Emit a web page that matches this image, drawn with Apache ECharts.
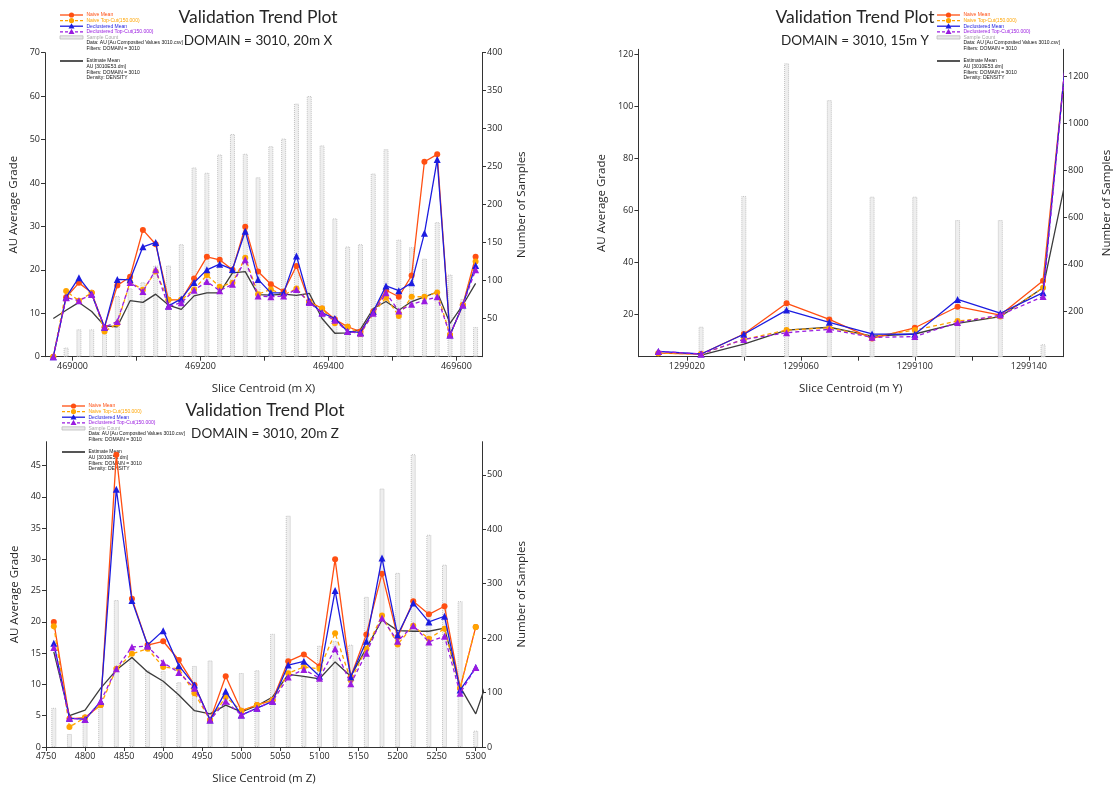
<!DOCTYPE html>
<html>
<head>
<meta charset="utf-8">
<title>Validation Trend Plots</title>
<script src="https://cdn.jsdelivr.net/npm/echarts@6/dist/echarts.min.js"></script>
<style>
  html, body { margin: 0; padding: 0; background: #ffffff; }
  #chart { width: 1114px; height: 786px; }
</style>
</head>
<body>
<div id="chart"></div>
<script>
// ---------- Slice trend along X (20 m slices) ----------
const xCentroids = [468970, 468990, 469010, 469030, 469050, 469070, 469090, 469110, 469130, 469150,
  469170, 469190, 469210, 469230, 469250, 469270, 469290, 469310, 469330, 469350,
  469370, 469390, 469410, 469430, 469450, 469470, 469490, 469510, 469530, 469550,
  469570, 469590, 469610, 469630];
const xNaiveMean = [0, 13.7, 17.0, 14.7, 6.8, 16.4, 18.4, 29.2, 25.9, 13.1, 13.1, 18.0, 23.0, 22.3, 20.0, 29.9, 19.6,
  16.7, 15.0, 20.9, 12.7, 11.1, 8.6, 6.9, 5.8, 10.4, 15.3, 13.8, 18.7, 44.9, 46.6, 5.0, 11.9, 23.0];
const xNaiveTopCut = [0, 15.1, 12.9, 14.7, 5.8, 7.6, 17.2, 15.4, 19.6, 13.1, 13.1, 15.5, 18.8, 16.1, 17.0, 22.8, 14.4,
  15.5, 14.2, 15.7, 12.5, 11.1, 7.7, 6.9, 5.2, 10.0, 13.6, 9.4, 13.8, 13.8, 14.8, 5.0, 11.9, 21.9];
const xDeclMean = [0, 13.7, 18.2, 14.4, 6.8, 17.8, 17.7, 25.3, 26.3, 11.7, 13.3, 17.1, 20.0, 21.3, 20.1, 28.9, 17.8,
  14.7, 14.7, 23.2, 12.7, 10.1, 8.8, 5.8, 5.6, 10.4, 16.3, 15.2, 17.0, 28.4, 45.4, 5.0, 11.9, 21.0];
const xDeclTopCut = [0, 13.6, 12.9, 14.4, 6.8, 8.1, 17.1, 15.0, 20.0, 11.6, 12.4, 15.3, 17.3, 15.2, 16.7, 22.3, 14.0,
  13.8, 14.0, 15.5, 12.5, 10.0, 8.4, 5.8, 5.4, 10.0, 14.7, 10.5, 12.1, 12.9, 13.8, 5.0, 11.9, 20.0];
const xEstimate = [8.8, 10.7, 12.5, 10.4, 7.1, 6.9, 12.9, 12.5, 14.4, 11.9, 10.9, 14.0, 14.7, 14.7, 19.3, 19.6, 14.3,
  14.2, 14.4, 14.1, 14.6, 8.8, 5.4, 5.5, 6.3, 11.1, 12.7, 10.7, 12.7, 13.8, 14.9, 7.7, 11.9, 16.9];
const xCounts = [null, 12, 36, 36, 38, 80, 90, 98, 120, 120, 148, 249, 242, 266, 293, 267, 236,
  277, 287, 333, 343, 278, 182, 145, 148, 241, 273, 154, 144, 129, 177, 108, 76, 39];
const xTickValues = [469000, 469100, 469200, 469300, 469400, 469500, 469600];
const xLabelValues = [469000, 469200, 469400, 469600];

// ---------- Slice trend along Y (15 m slices) ----------
const yCentroids = [1299010, 1299025, 1299040, 1299055, 1299070, 1299085, 1299100, 1299115, 1299130, 1299145, 1299160];
const yNaiveMean = [4.9, 4.6, 12.3, 24.1, 17.9, 10.6, 14.7, 22.8, 19.6, 32.8, 192.8];
const yNaiveTopCut = [4.9, 4.6, 10.2, 13.8, 14.7, 11.3, 13.8, 17.3, 19.0, 30.1, 194.8];
const yDeclMean = [5.6, 4.6, 12.2, 21.5, 16.8, 12.3, 12.2, 25.6, 20.3, 28.2, 198.0];
const yDeclTopCut = [5.6, 4.6, 10.2, 12.8, 14.1, 11.0, 11.3, 16.7, 19.6, 26.7, 198.7];
const yEstimate = [null, 4.2, 8.4, 13.8, 14.9, 11.5, 12.3, 16.4, 19.0, 30.1, 108.5];
const yCounts = [null, 133, 691, 1257, 1100, 688, 688, 588, 588, 58, null];
const yTickValues = [1299020, 1299040, 1299060, 1299080, 1299100, 1299120, 1299140];
const yLabelValues = [1299020, 1299060, 1299100, 1299140];

// ---------- Slice trend along Z (20 m slices) ----------
const zCentroids = [4760, 4780, 4800, 4820, 4840, 4860, 4880, 4900, 4920, 4940, 4960, 4980, 5000, 5020,
  5040, 5060, 5080, 5100, 5120, 5140, 5160, 5180, 5200, 5220, 5240, 5260, 5280, 5300, 5320];
const zNaiveMean = [20.0, 4.5, 4.7, 6.7, 46.7, 23.7, 16.3, 16.9, 13.9, 9.9, 4.3, 11.3, 5.8, 6.7,
  7.5, 13.7, 14.8, 12.9, 30.0, 11.2, 18.0, 27.7, 17.6, 23.3, 21.2, 22.5, 9.4, 19.2, null];
const zNaiveTopCut = [19.3, 3.2, 4.7, 6.7, 12.5, 14.9, 15.7, 12.8, 12.5, 8.6, 4.3, 8.0, 5.8, 6.7,
  7.5, 11.8, 12.8, 12.5, 18.2, 10.7, 15.7, 21.0, 16.4, 19.4, 17.3, 18.9, 9.4, 19.2, null];
const zDeclMean = [16.6, 4.6, 4.4, 7.3, 41.2, 23.4, 16.3, 18.6, 13.0, 9.9, 4.3, 8.9, 5.1, 6.2,
  7.3, 13.1, 13.7, 11.3, 25.0, 11.2, 16.9, 30.2, 17.9, 23.0, 20.0, 20.9, 9.1, 12.7, null];
const zDeclTopCut = [15.9, 4.6, 4.4, 7.3, 12.5, 16.0, 16.1, 13.5, 11.9, 9.4, 4.3, 7.3, 5.1, 6.2,
  7.3, 11.2, 12.4, 11.0, 15.7, 10.1, 15.0, 20.6, 16.9, 19.4, 16.8, 17.7, 8.6, 12.7, null];
const zEstimate = [15.2, 5.0, 5.9, 9.4, 12.3, 14.3, 12.0, 10.5, 8.3, 5.8, 5.3, 6.7, 5.6, 6.6,
  8.0, 11.6, 11.3, 10.9, 13.6, 11.3, 15.8, 20.3, 18.6, 18.5, 18.5, 19.0, 9.6, 5.3, 12.5];
const zCounts = [72, 24, 55, 75, 270, 165, 141, 140, 119, 149, 159, 100, 136, 141,
  208, 425, 130, 186, 195, 188, 276, 475, 320, 538, 390, 335, 268, 30, null];
const zTickValues = [4750, 4800, 4850, 4900, 4950, 5000, 5050, 5100, 5150, 5200, 5250, 5300];

// ---------- Shared text ----------
const plotTitle = 'Validation Trend Plot';
const subtitles = ['DOMAIN = 3010, 20m X', 'DOMAIN = 3010, 15m Y', 'DOMAIN = 3010, 20m Z'];
const axisNames = ['Slice Centroid (m X)', 'Slice Centroid (m Y)', 'Slice Centroid (m Z)'];
const gradeName = 'AU Average Grade';
const countName = 'Number of Samples';
const legendTexts = ['Naive Mean', 'Naive Top-Cut(150.000)', 'Declustered Mean', 'Declustered Top-Cut(150.000)',
  'Sample Count', 'Data: AU [Au Composited Values 3010.csv]', 'Filters: DOMAIN = 3010',
  'Estimate Mean', 'AU [3010E53.dm]', 'Filters: DOMAIN = 3010', 'Density: DENSITY'];
const gradeTicks = [20, 40, 60, 80, 100, 120];
const countTicksY = [200, 400, 600, 800, 1000, 1200];
const gradeTicksZ = [0, 5, 10, 15, 20, 25, 30, 35, 40, 45];
const countTicksZ = [0, 100, 200, 300, 400, 500];

// ---------- Styling ----------
const C = {
  naive: '#ff4f12',
  naiveTop: '#ffa400',
  decl: '#1c1ce0',
  declTop: '#9a1be0',
  est: '#3c3c3c',
  barFill: '#eeeeee',
  barEdge: '#c0c0c0',
  axis: '#333333',
  text: '#262626'
};
const FONT = 'Open Sans';

function pairs(xs, vs) {
  const out = [];
  for (let i = 0; i < xs.length; i++) {
    if (vs[i] !== null && vs[i] !== undefined) out.push([xs[i], vs[i]]);
  }
  return out;
}

function xAxisCfg(gridIndex, min, max, ticks, labels, name) {
  return {
    type: 'value', gridIndex, min, max,
    name, nameLocation: 'middle', nameGap: 26,
    nameTextStyle: { fontFamily: FONT, fontSize: 11.5, color: C.text },
    axisLine: { show: true, onZero: false, lineStyle: { color: C.axis, width: 1 } },
    axisTick: { show: true, customValues: ticks, length: 4, lineStyle: { color: C.axis } },
    axisLabel: { customValues: labels, fontFamily: FONT, fontSize: 9, color: C.text, margin: 5,
      formatter: v => String(v) },
    splitLine: { show: false }
  };
}

function yAxisCfg(gridIndex, position, min, max, labels, name, nameGap) {
  return {
    type: 'value', gridIndex, position, min, max,
    name, nameLocation: 'middle', nameGap, nameRotate: 90,
    nameTextStyle: { fontFamily: FONT, fontSize: 11.5, color: C.text },
    axisLine: { show: true, onZero: false, lineStyle: { color: C.axis, width: 1 } },
    axisTick: { show: true, customValues: labels, length: 4, lineStyle: { color: C.axis } },
    axisLabel: { customValues: labels, fontFamily: FONT, fontSize: 9, color: C.text, margin: 5,
      formatter: v => String(v) },
    splitLine: { show: false }
  };
}

function panelSeries(axisIdx, xs, counts, est, naive, naiveTop, decl, declTop, barW) {
  const xi = axisIdx, yl = axisIdx * 2, yr = axisIdx * 2 + 1;
  const line = (data, color, symbol, size, dashed, z) => ({
    type: 'line', xAxisIndex: xi, yAxisIndex: yl, data, z,
    symbol, symbolSize: size, showSymbol: symbol !== 'none', clip: true,
    lineStyle: { color, width: 1.3, type: dashed ? [4, 3] : 'solid' },
    itemStyle: { color },
    emphasis: { disabled: true }
  });
  return [
    {
      type: 'bar', xAxisIndex: xi, yAxisIndex: yr, data: pairs(xs, counts),
      barWidth: barW, z: 1,
      itemStyle: { color: C.barFill, borderColor: C.barEdge, borderWidth: 1, borderType: 'dotted' },
      emphasis: { disabled: true }
    },
    line(pairs(xs, est), C.est, 'none', 0, false, 2),
    line(pairs(xs, naive), C.naive, 'circle', 6, false, 3),
    line(pairs(xs, naiveTop), C.naiveTop, 'circle', 6, true, 4),
    line(pairs(xs, decl), C.decl, 'triangle', 7, false, 5),
    line(pairs(xs, declTop), C.declTop, 'triangle', 7, true, 6)
  ];
}

// Small key drawn at the top-left of each panel
function legendGroup(x, y) {
  const rows = [0, 5.6, 11.2, 16.8, 22.4, 28, 33.6, 46, 51.6, 57.2, 62.8];
  const colors = [C.naive, C.naiveTop, C.decl, C.declTop, '#a8a8a8', '#111', '#111', '#111', '#111', '#111', '#111'];
  const kids = [];
  const lx = 23, tx = 26.5;
  const seg = (r, color, dashed, w) => ({
    type: 'line', shape: { x1: 0, y1: r, x2: lx, y2: r },
    style: { stroke: color, lineWidth: w, lineDash: dashed ? [3, 2] : null }
  });
  const dot = (r, color) => ({ type: 'circle', shape: { cx: lx / 2, cy: r, r: 2.6 }, style: { fill: color } });
  const tri = (r, color) => ({
    type: 'polygon', shape: { points: [[lx / 2, r - 3], [lx / 2 - 3, r + 2.2], [lx / 2 + 3, r + 2.2]] },
    style: { fill: color }
  });
  kids.push(seg(rows[0], C.naive, false, 1.3), dot(rows[0], C.naive));
  kids.push(seg(rows[1], C.naiveTop, true, 1.3), dot(rows[1], C.naiveTop));
  kids.push(seg(rows[2], C.decl, false, 1.3), tri(rows[2], C.decl));
  kids.push(seg(rows[3], C.declTop, true, 1.3), tri(rows[3], C.declTop));
  kids.push({ type: 'rect', shape: { x: 0, y: rows[4] - 1.6, width: lx, height: 3.2 },
    style: { fill: '#e9e9e9', stroke: '#bcbcbc', lineWidth: 0.8 } });
  kids.push(seg(rows[7], '#555', false, 2));
  legendTexts.forEach((t, i) => {
    kids.push({
      type: 'text', x: tx, y: rows[i],
      style: { text: t, fill: colors[i], font: '5px "Liberation Sans"', textVerticalAlign: 'middle' }
    });
  });
  return { type: 'group', x, y, children: kids, silent: true };
}

function titleTexts(cx, y, sub) {
  return [
    { type: 'text', x: cx, y: y, silent: true,
      style: { text: plotTitle, fill: C.text, font: '17.5px Lato', textAlign: 'center', textVerticalAlign: 'middle' } },
    { type: 'text', x: cx, y: y + 24, silent: true,
      style: { text: sub, fill: C.text, font: '13.5px Lato', textAlign: 'center', textVerticalAlign: 'middle' } }
  ];
}

const option = {
  animation: false,
  backgroundColor: '#ffffff',
  grid: [
    { left: 45, top: 52.7, width: 437, height: 304 },
    { left: 638.4, top: 49.3, width: 427.6, height: 307.4 },
    { left: 46, top: 441.7, width: 436, height: 307.3 }
  ],
  xAxis: [
    xAxisCfg(0, 468957, 469640, xTickValues, xLabelValues, axisNames[0]),
    xAxisCfg(1, 1299003, 1299152, yTickValues, yLabelValues, axisNames[1]),
    xAxisCfg(2, 4750, 5308, zTickValues, zTickValues, axisNames[2])
  ],
  yAxis: [
    yAxisCfg(0, 'left', 0, 70, [0, 10, 20, 30, 40, 50, 60, 70], gradeName, 25),
    yAxisCfg(0, 'right', 0, 400, [50, 100, 150, 200, 250, 300, 350, 400], countName, 34),
    yAxisCfg(1, 'left', 3.56, 121.9, gradeTicks, gradeName, 31),
    yAxisCfg(1, 'right', 5, 1317, countTicksY, countName, 38),
    yAxisCfg(2, 'left', 0, 48.8, gradeTicksZ, gradeName, 25),
    yAxisCfg(2, 'right', 0, 561, countTicksZ, countName, 34)
  ],
  series: [].concat(
    panelSeries(0, xCentroids, xCounts, xEstimate, xNaiveMean, xNaiveTopCut, xDeclMean, xDeclTopCut, 5),
    panelSeries(1, yCentroids, yCounts, yEstimate, yNaiveMean, yNaiveTopCut, yDeclMean, yDeclTopCut, 5),
    panelSeries(2, zCentroids, zCounts, zEstimate, zNaiveMean, zNaiveTopCut, zDeclMean, zDeclTopCut, 5)
  ),
  graphic: [].concat(
    titleTexts(258, 17, subtitles[0]),
    titleTexts(855, 17, subtitles[1]),
    titleTexts(265, 410, subtitles[2]),
    [legendGroup(60, 15), legendGroup(937, 15), legendGroup(62, 406)]
  )
};

const chart = echarts.init(document.getElementById('chart'));
chart.setOption(option);
</script>
</body>
</html>
